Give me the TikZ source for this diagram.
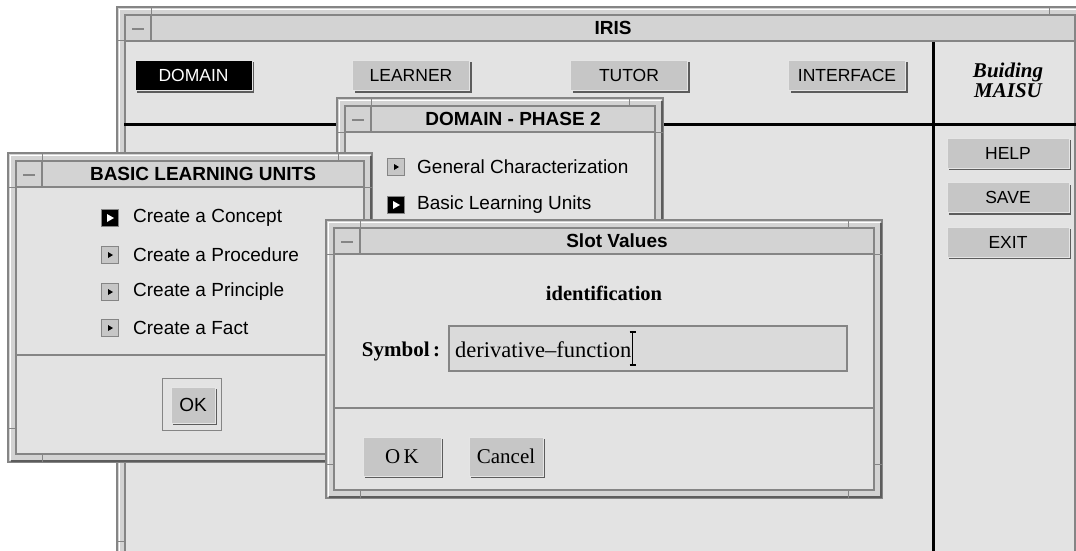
\documentclass[tikz,border=0pt]{standalone}
\usepackage{fontspec}
\setmainfont{Liberation Serif}
\setsansfont{Liberation Sans}
\usetikzlibrary{shadows}
\definecolor{winbg}{HTML}{E3E3E3}
\definecolor{barbg}{HTML}{D3D3D3}
\definecolor{btnbg}{HTML}{C6C6C6}
\definecolor{edge}{HTML}{858585}
\definecolor{edgedark}{HTML}{5C5C5C}
% motif window: name, x1, y1, x2, y2, title
\newcommand{\mwindow}[6]{%
\filldraw[fill=barbg, draw=edge, line width=1.5pt] (#2,#3) rectangle (#4,#5);
\draw[white, line width=1pt] ({#2+2.5},{#5-2.5}) -- ({#2+2.5},{#3+2.5}) -- ({#4-2.5},{#3+2.5});
\draw[edgedark, line width=2pt] ({#2+3},{#5-1}) -- ({#4-1},{#5-1}) -- ({#4-1},{#3+3});
\filldraw[fill=winbg, draw=edge, line width=1.2pt] ({#2+8},{#3+34}) rectangle ({#4-8},{#5-8});
\filldraw[fill=barbg, draw=edge, line width=1.2pt] ({#2+8},{#3+8}) rectangle ({#4-8},{#3+34});
\draw[edge, line width=1.2pt] ({#2+34},{#3+8}) -- ({#2+34},{#3+34});
\draw[edge, line width=2pt] ({#2+15},{#3+22}) -- ({#2+27},{#3+22});
\draw[edge, line width=1pt] ({#2+34},#3) -- ({#2+34},{#3+8}) ({#4-34},#3) -- ({#4-34},{#3+8})
  ({#2+34},#5) -- ({#2+34},{#5-8}) ({#4-34},#5) -- ({#4-34},{#5-8})
  (#2,{#3+34}) -- ({#2+8},{#3+34}) (#4,{#3+34}) -- ({#4-8},{#3+34})
  (#2,{#5-34}) -- ({#2+8},{#5-34}) (#4,{#5-34}) -- ({#4-8},{#5-34});
\node[wtitle] (#1) at ({(#2+#4)/2+13},{#3+21}) {#6};
}

\begin{document}
\begin{tikzpicture}[x=1pt,y=-1pt]
\tikzstyle{wtitle}=[font=\sffamily\bfseries\fontsize{19}{22}\selectfont, inner sep=0pt];
\tikzstyle{btn}=[fill=btnbg, draw=white!80!gray, line width=0.8pt, inner sep=0pt,
  minimum width=117pt, minimum height=30pt, font=\sffamily\fontsize{17.5}{20}\selectfont,
  drop shadow={shadow xshift=2pt, shadow yshift=-2pt, fill=edgedark, opacity=1}];
\tikzstyle{sbtn}=[btn, font=\rmfamily\fontsize{21}{24}\selectfont, minimum height=39pt];
\tikzstyle{item}=[font=\sffamily\fontsize{19}{22}\selectfont, anchor=west, inner sep=0pt];
\tikzstyle{radio}=[draw=edge, fill=btnbg, line width=1pt, minimum size=17pt, inner sep=0pt,
  path picture={\fill[black] (path picture bounding box.center) ++(-2,-3) -- ++(5,3) -- ++(-5,3) -- cycle;}];
\tikzstyle{radiosel}=[radio, fill=black,
  path picture={\fill[white] (path picture bounding box.center) ++(-3,-4) -- ++(7,4) -- ++(-7,4) -- cycle;}];
\useasboundingbox (0,0) rectangle (1076,551);
\clip (0,0) rectangle (1076,551);
\fill[white] (0,0) rectangle (1076,551);

% main window
\mwindow{iris}{117}{7}{1083}{575}{IRIS}
\draw[black, line width=3pt] (124,124) -- (1076,124);
\draw[black, line width=3pt] (933,42) -- (933,551);
\node[btn, fill=black, text=white] (domain) at (193.5,75.5) {DOMAIN};
\node[btn] (learner) at (411,75.5) {LEARNER};
\node[btn] (tutor) at (629,75.5) {TUTOR};
\node[btn] (interface) at (847,75.5) {INTERFACE};
\node[font=\rmfamily\bfseries\itshape\fontsize{21}{20}\selectfont, align=center] (brand) at (1008,80) {Buiding\\MAISU};
\node[btn, minimum width=122pt] (help) at (1008,153) {HELP};
\node[btn, minimum width=122pt] (save) at (1008,197.5) {SAVE};
\node[btn, minimum width=122pt] (exit) at (1008,242) {EXIT};

% domain - phase 2
\mwindow{phase}{337}{98}{663}{320}{DOMAIN - PHASE 2}
\node[radio] (p1) at (396,167) {};
\node[item] (gc) at (417,167) {General Characterization};
\node[radiosel] (p2) at (396,205) {};
\node[item] (blu) at (417,205) {Basic Learning Units};

% basic learning units
\mwindow{units}{8}{153}{372}{462}{BASIC LEARNING UNITS}
\node[radiosel] (u1) at (110,218) {};
\node[item] (concept) at (133,218) {Create a Concept};
\node[radio] (u2) at (110,255) {};
\node[item] (procedure) at (133,255) {Create a Procedure};
\node[radio] (u3) at (110,292) {};
\node[item] (principle) at (133,292) {Create a Principle};
\node[radio] (u4) at (110,328) {};
\node[item] (fact) at (133,328) {Create a Fact};
\draw[edge, line width=1.5pt] (17,355) -- (363,355);
\draw[edge, line width=1pt] (162,378) rectangle (221,430);
\node[btn, minimum width=44pt, minimum height=36pt, font=\sffamily\fontsize{19}{22}\selectfont] (ok1) at (193,405) {OK};

% slot values
\mwindow{slot}{326}{220}{882}{498}{Slot Values}
\node[font=\rmfamily\bfseries\fontsize{20.5}{24}\selectfont] (ident) at (604,293) {identification};
\node[font=\rmfamily\bfseries\fontsize{21}{24}\selectfont, inner sep=0pt] (sym) at (401,351) {Symbol\,:};
\node[draw=edge, line width=2pt, fill=winbg!96!black, minimum width=398pt, minimum height=45pt,
  inner sep=0pt] (field) at (648,348.5) {};
\node[font=\rmfamily\fontsize{22.5}{25}\selectfont, anchor=west, inner sep=0pt] (val) at (455,350) {derivative--function};
\draw[black, line width=1.3pt] ([xshift=1pt,yshift=18pt]val.east) ++(-3,0) -- ++(6,0) ++(-3,0) -- ++(0,33) ++(-3,0) -- ++(6,0);
\draw[edge, line width=1.5pt] (334,408) -- (874,408);
\node[sbtn, minimum width=78pt] (ok2) at (402,456.5) {O\,K};
\node[sbtn, minimum width=74pt] (cancel) at (506,456.5) {Cancel};
\end{tikzpicture}
\end{document}
